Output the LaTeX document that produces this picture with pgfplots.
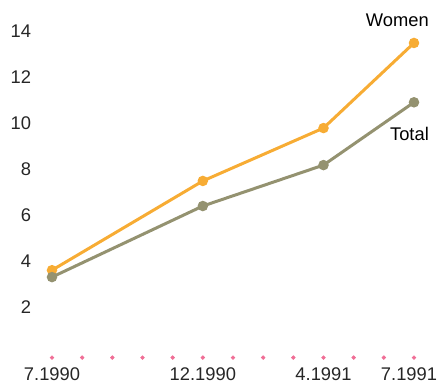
\documentclass[border=0pt]{standalone}
\usepackage{fontspec}
\setmainfont{Liberation Sans}
\usepackage{pgfplots}
\pgfplotsset{compat=1.18}

\definecolor{women}{RGB}{247,172,52}
\definecolor{total}{RGB}{148,146,112}
\definecolor{tickpink}{RGB}{240,110,150}

\begin{document}
\begin{tikzpicture}
\begin{axis}[
  at={(0,0)}, anchor=south west,
  scale only axis,
  width=217.2pt, height=193.2pt,
  xmin=0, xmax=12, ymin=0, ymax=14,
  enlargelimits=false,
  clip=false,
  axis line style={draw=none},
  major tick length=0pt,
  ytick={2,4,...,14},
  xtick={0,5,9},
  xticklabels={7.1990,12.1990,4.1991},
  extra x ticks={12},
  extra x tick labels={7.1991},
  extra x tick style={xticklabel style={xshift=-3pt}},
  tick label style={font=\fontsize{11}{12}\selectfont, text=black!85},
  yticklabel style={xshift=-9pt},
  xticklabel style={yshift=-5pt},
  /pgf/number format/assume math mode=true,
]
\addplot[only marks, mark=*, mark size=1.1pt, tickpink] coordinates {
  (0,-0.2) (1,-0.2) (2,-0.2) (3,-0.2) (4,-0.2) (5,-0.2) (6,-0.2)
  (7,-0.2) (8,-0.2) (9,-0.2) (10,-0.2) (11,-0.2) (12,-0.2)
};
\addplot[women, line width=1.8pt, mark=*, mark size=2.2pt] coordinates {
  (0,3.6) (5,7.48) (9,9.78) (12,13.48)
};
\addplot[total, line width=1.8pt, mark=*, mark size=2.2pt] coordinates {
  (0,3.3) (5,6.39) (9,8.17) (12,10.9)
};
\node[font=\fontsize{11}{12}\selectfont] at (axis cs:11.45,14.48) {Women};
\node[font=\fontsize{11}{12}\selectfont] at (axis cs:11.85,9.52) {Total};
\end{axis}
\pgfresetboundingbox
\path[use as bounding box] (-31.2pt,-18pt) rectangle (231.6pt,211.8pt);
\end{tikzpicture}
\end{document}
